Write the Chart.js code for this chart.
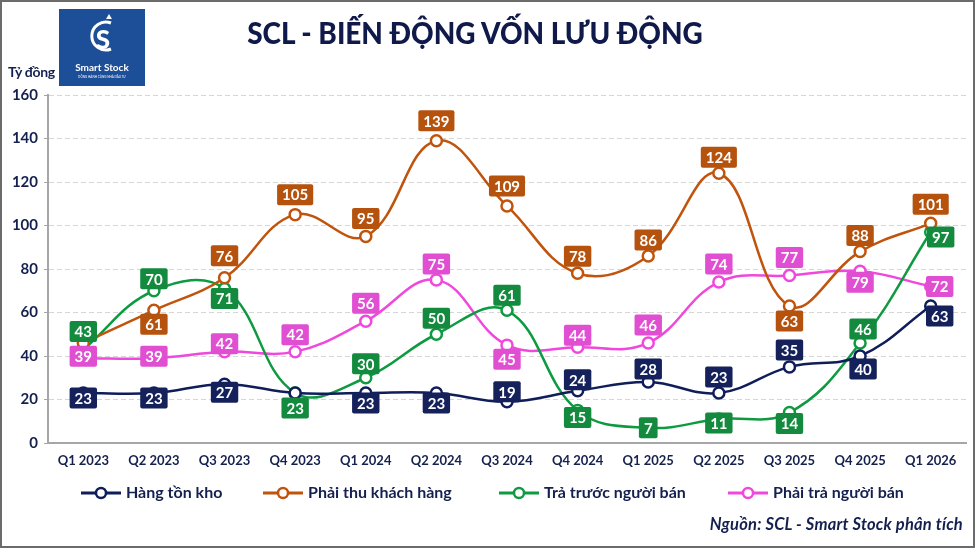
<!DOCTYPE html>
<html>
<head>
<meta charset="utf-8">
<script src="https://cdn.jsdelivr.net/npm/chart.js@4.4.1/dist/chart.umd.min.js"></script>
<style>
  html, body { margin: 0; padding: 0; background: #fff; }
  body { width: 975px; height: 548px; position: relative; overflow: hidden; font-family: Lato, "Noto Sans", sans-serif; color: #14204f; }
  .frame { position: absolute; left: 0; top: 0; width: 971px; height: 544px; border: 2px solid #6b6b6b; }
  #wrap { position: absolute; left: 0; top: 0; width: 975px; height: 548px; }
  .title { position: absolute; left: 0; width: 950px; top: 13px; text-align: center; font-weight: 900; font-size: 31px; color: #0f1a4a; transform: scaleX(0.9); transform-origin: 475px 0; }
  .unit { position: absolute; left: 8px; top: 63px; font-weight: 700; font-size: 14px; letter-spacing: -0.3px; }
  .logo { position: absolute; left: 59px; top: 9px; width: 86px; height: 77px; background: #1d4e98; color: #fff; text-align: center; }
  .logo .name { position: absolute; left: 0; right: 0; top: 52px; font-size: 10px; font-weight: 700; }
  .logo .sub { position: absolute; left: 0; right: 0; top: 66px; font-size: 3px; }
  .legend { position: absolute; top: 482px; left: 0; width: 975px; height: 22px; font-weight: 700; font-size: 16px; }
  .legend span { position: absolute; white-space: nowrap; }
  .legend svg { position: absolute; top: 3px; }
  .source { position: absolute; right: 12px; top: 514px; font-style: italic; font-weight: 700; font-size: 16.5px; letter-spacing: 0.2px; }
</style>
</head>
<body>
<div id="wrap"><canvas id="chart" width="975" height="548"></canvas></div>
<div class="title">SCL - BIẾN ĐỘNG VỐN LƯU ĐỘNG</div>
<div class="unit">Tỷ đồng</div>
<div class="logo">
  <svg width="86" height="52" viewBox="0 0 86 52">
    <path d="M52 14 A14 14 0 1 0 52 40" fill="none" stroke="#fff" stroke-width="3"/>
    <text x="44" y="40" text-anchor="middle" font-size="26" font-weight="900" fill="#fff" font-family="Lato">S</text>
    <path d="M47 10 l3 -5 l3 5 z" fill="#fff"/>
  </svg>
  <div class="name">Smart Stock</div>
  <div class="sub">ĐỒNG HÀNH CÙNG NHÀ ĐẦU TƯ</div>
</div>
<div class="legend" id="legend"></div>
<div class="source">Nguồn: SCL - Smart Stock phân tích</div>
<div class="frame"></div>
<script>
// data
const quarters = ['Q1 2023', 'Q2 2023', 'Q3 2023', 'Q4 2023', 'Q1 2024', 'Q2 2024', 'Q3 2024', 'Q4 2024', 'Q1 2025', 'Q2 2025', 'Q3 2025', 'Q4 2025', 'Q1 2026'];
const hangTonKho = [23, 23, 27, 23, 23, 23, 19, 24, 28, 23, 35, 40, 63];
const phaiThu = [46, 61, 76, 105, 95, 139, 109, 78, 86, 124, 63, 88, 101];
const traTruoc = [43, 70, 71, 23, 30, 50, 61, 15, 7, 11, 14, 46, 97];
const phaiTra = [39, 39, 42, 42, 56, 75, 45, 44, 46, 74, 77, 79, 72];
const yTicks = [0, 20, 40, 60, 80, 100, 120, 140, 160];

const navy = '#0f1d5a';
const orange = '#c0540d';
const green = '#0e9a40';
const pink = '#f048dc';

// where each value label sits relative to its point (dx, dy), null = no label
const offNavy = [[0,5],[0,5],[0,8],null,[0,10],[0,10],[0,-10],[0,-11],[0,-13],[0,-16],[0,-17],[3,13],[9,10]];
const offOrange = [null,[0,14],[0,-22],[0,-20],[0,-18],[0,-20],[0,-20],[0,-17],[0,-16],[0,-16],[0,15],[0,-16],[0,-19]];
const offGreen = [[0,-18],[0,-12],[0,10],[0,15],[0,-14],[0,-16],[0,-15],[0,7],[0,0],[0,4],[0,11],[3,-14],[10,5]];
const offPink = [[0,-2],[0,-2],[0,-8],[0,-17],[0,-18],[0,-16],[0,14],[0,-12],[0,-18],[0,-18],[0,-18],[0,11],[9,0]];

const boxColors = ['#14215a', '#b5520e', '#138a3d', '#e04fd2'];
const offsets = [offNavy, offOrange, offGreen, offPink];

const valueLabels = {
  id: 'valueLabels',
  afterDatasetsDraw(chart) {
    const ctx = chart.ctx;
    ctx.save();
    ctx.font = 'bold 15px Lato';
    ctx.textAlign = 'center';
    ctx.textBaseline = 'middle';
    chart.data.datasets.forEach((ds, di) => {
      const meta = chart.getDatasetMeta(di);
      meta.data.forEach((pt, i) => {
        const off = offsets[di][i];
        if (!off) return;
        const txt = String(ds.data[i]);
        const w = ctx.measureText(txt).width + 10;
        const h = 21;
        const cx = pt.x + off[0], cy = pt.y + off[1];
        ctx.fillStyle = boxColors[di];
        ctx.beginPath();
        ctx.roundRect(cx - w / 2, cy - h / 2, w, h, 2);
        ctx.fill();
        ctx.fillStyle = '#fff';
        ctx.fillText(txt, cx, cy + 1);
      });
    });
    ctx.restore();
  }
};

function line(label, data, color) {
  return {
    label: label,
    data: data,
    borderColor: color,
    backgroundColor: '#fff',
    borderWidth: 2.5,
    tension: 0.4,
    pointRadius: 5.5,
    pointBorderWidth: 2.5,
    pointBackgroundColor: '#fff',
    pointBorderColor: color
  };
}

const chart = new Chart(document.getElementById('chart').getContext('2d'), {
  type: 'line',
  data: {
    labels: quarters,
    datasets: [
      line('Hàng tồn kho', hangTonKho, navy),
      line('Phải thu khách hàng', phaiThu, orange),
      line('Trả trước người bán', traTruoc, green),
      line('Phải trả người bán', phaiTra, pink)
    ]
  },
  options: {
    responsive: false,
    animation: false,
    layout: { padding: { top: 95, right: 9, left: 0, bottom: 0 } },
    plugins: { legend: { display: false }, tooltip: { enabled: false } },
    scales: {
      x: {
        offset: true,
        grid: { display: false, drawTicks: false },
        border: { color: '#a6a6a6', width: 2 },
        ticks: { color: '#14204f', font: { family: 'Lato', weight: 'bold', size: 13 }, padding: 10, maxRotation: 0 },
        afterFit(s) { s.height = 105; }
      },
      y: {
        min: 0,
        max: 160,
        afterBuildTicks(s) { s.ticks = yTicks.map(v => ({ value: v })); },
        grid: { color: '#d6d6d6', tickColor: '#a6a6a6', tickLength: 4, tickBorderDash: [], lineWidth: 1 },
        border: { color: '#a6a6a6', width: 2, dash: [5, 3] },
        ticks: { color: '#14204f', font: { family: 'Lato', weight: 'bold', size: 15 }, padding: 6 },
        afterFit(s) { s.width = 48; }
      }
    }
  },
  plugins: [valueLabels]
});

// legend
const legendItems = [
  ['Hàng tồn kho', navy, 80],
  ['Phải thu khách hàng', orange, 262],
  ['Trả trước người bán', green, 498],
  ['Phải trả người bán', pink, 727]
];
const lg = document.getElementById('legend');
legendItems.forEach(([name, col, x]) => {
  lg.insertAdjacentHTML('beforeend',
    `<svg style="left:${x}px" width="42" height="16"><line x1="1" y1="8" x2="41" y2="8" stroke="${col}" stroke-width="3"/><circle cx="21" cy="8" r="5" fill="#fff" stroke="${col}" stroke-width="2.5"/></svg>` +
    `<span style="left:${x + 46}px">${name}</span>`);
});
</script>
</body>
</html>
